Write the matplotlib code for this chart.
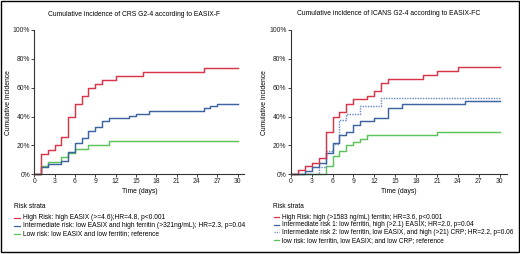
import matplotlib.pyplot as plt
from matplotlib.lines import Line2D
from matplotlib.patches import Rectangle

plt.rcParams['font.family'] = ['Liberation Sans', 'DejaVu Sans']

# CRS panel (EASIX-F): event days and cumulative incidence (%)
crs_high_days = [0, 1, 2, 3, 4, 5, 6, 7, 8, 9, 10, 12, 16, 25, 30]
crs_high_ci = [0, 14, 17, 20, 26, 40, 48.7, 54, 60, 62.6, 65.5, 68.3, 71.1, 74, 74]
crs_int_days = [0, 1, 2, 4, 5, 6, 7, 8, 9, 10, 11, 14, 15, 17, 25, 26, 27, 30]
crs_int_ci = [0, 5.3, 6.8, 9.3, 15.7, 21.9, 25, 30.2, 33, 37.2, 38.8, 40.4, 41.8, 44.1, 45.7, 47.3, 48.7, 48.7]
crs_low_days = [0, 1, 2, 4, 5, 6, 8, 11, 30]
crs_low_ci = [0, 5.5, 8.7, 12, 14.5, 17.3, 20.3, 23.3, 23.3]

# ICANS panel (EASIX-FC)
icans_high_days = [0, 1, 2, 3, 4, 5, 6, 7, 8, 9, 11, 12, 13, 14, 19, 21, 24, 30]
icans_high_ci = [0, 3, 5.5, 8, 11, 29, 40, 43, 49, 52, 54, 57.5, 63, 66, 69, 71.3, 74.5, 74.5]
icans_int1_days = [0, 2, 3, 4, 5, 6, 7, 8, 9, 10, 12, 14, 16, 25, 30]
icans_int1_ci = [0, 2.5, 5, 7.5, 15, 22, 27, 29, 34, 37, 39.2, 46.2, 48.5, 51, 51]
icans_int2_days = [0, 4, 5, 6, 7, 8, 10, 13, 30]
icans_int2_ci = [0, 5, 16, 21, 37.5, 42, 47.3, 53, 53]
icans_low_days = [0, 5, 6, 7, 8, 9, 10, 11, 21, 30]
icans_low_ci = [0, 6, 13, 16, 20, 22.5, 24.5, 27, 29, 29]

crs_labels = ['High Risk: high EASIX (>=4.6);HR=4.8, p<0.001',
              'Intermediate risk: low EASIX and high ferritin (>321ng/mL); HR=2.3, p=0.04',
              'Low risk: low EASIX and low ferritin; reference']
icans_labels = ['High Risk: high (>1583 ng/mL) ferritin; HR=3.6, p<0.001',
                'Intermediate risk 1: low ferritin, high (>2.1) EASIX; HR=2.0, p=0.04',
                'Intermediate risk 2: low ferritin, low EASIX, and high (>21) CRP; HR=2.2, p=0.06',
                'low risk: low ferritin, low EASIX; and low CRP; reference']

RED = '#d8344a'
BLUE = '#3d64a0'
BLUE2 = '#6f8fc2'
GREEN = '#5cc35c'
FS = 4.85
LW = 1.05

W, H = 520, 254
fig = plt.figure(figsize=(W / 100, H / 100), dpi=100)


def fx(px):
    return px / W


def fy(py):
    return 1 - py / H


def setup(ax):
    ax.set_xlim(0, 31)
    ax.set_ylim(0, 100)
    ax.set_xticks(range(0, 31, 3))
    ax.set_yticks(range(0, 101, 20))
    ax.set_yticklabels([f'{v}%' for v in range(0, 101, 20)])
    for s in ['top', 'right']:
        ax.spines[s].set_visible(False)
    for s in ['left', 'bottom']:
        ax.spines[s].set_linewidth(0.8)
        ax.spines[s].set_color('#333333')
    ax.tick_params(labelsize=FS, length=2, width=0.6, pad=1, colors='#222222')
    ax.set_xlabel('Time (days)', fontsize=FS, labelpad=1.5)
    ax.set_ylabel('Cumulative Incidence', fontsize=FS, labelpad=0.5)


ax1 = fig.add_axes([fx(34.3), fy(174.3), fx(210), (174.3 - 30) / H])
ax1.step(crs_low_days, crs_low_ci, where='post', color=GREEN, lw=LW, clip_on=False)
ax1.step(crs_int_days, crs_int_ci, where='post', color=BLUE, lw=LW, clip_on=False)
ax1.step(crs_high_days, crs_high_ci, where='post', color=RED, lw=LW, clip_on=False)
setup(ax1)
fig.text(fx(133.7), fy(15), 'Cumulative incidence of CRS G2-4 according to EASIX-F',
         fontsize=4.9, ha='center', va='center')

ax2 = fig.add_axes([fx(290.7), fy(174.3), fx(216), (174.3 - 30) / H])
ax2.step(icans_low_days, icans_low_ci, where='post', color=GREEN, lw=LW, clip_on=False)
ax2.step(icans_int2_days, icans_int2_ci, where='post', color=BLUE2, lw=LW, ls=(0, (1, 0.8)), clip_on=False)
ax2.step(icans_int1_days, icans_int1_ci, where='post', color=BLUE, lw=LW, clip_on=False)
ax2.step(icans_high_days, icans_high_ci, where='post', color=RED, lw=LW, clip_on=False)
setup(ax2)
fig.text(fx(389), fy(13.5), 'Cumulative incidence of ICANS G2-4 according to EASIX-FC',
         fontsize=4.9, ha='center', va='center')


def legend(x0, ys, labels, colors, styles, fs):
    fig.text(fx(x0), fy(ys[0] - 10.7), 'Risk strata', fontsize=fs, ha='left', va='center')
    for y, lab, c, st in zip(ys, labels, colors, styles):
        fig.add_artist(Line2D([fx(x0 + 0.5), fx(x0 + 6)], [fy(y), fy(y)], color=c, lw=0.9, ls=st))
        fig.text(fx(x0 + 9.5), fy(y), lab, fontsize=fs, ha='left', va='center')


legend(13.5, [217.7, 225.8, 234], crs_labels, [RED, BLUE, GREEN], ['-', '-', '-'], 4.8)
legend(273, [217.3, 224.8, 232.4, 240.2], icans_labels, [RED, BLUE, BLUE2, GREEN],
       ['-', '-', (0, (1, 0.8)), '-'], 4.7)

fig.add_artist(Rectangle((fx(0.5), fy(251.5)), fx(518.5), (251) / H, fill=False,
                         edgecolor='black', lw=1.0, transform=fig.transFigure))

fig.savefig('out.png', dpi=100)
